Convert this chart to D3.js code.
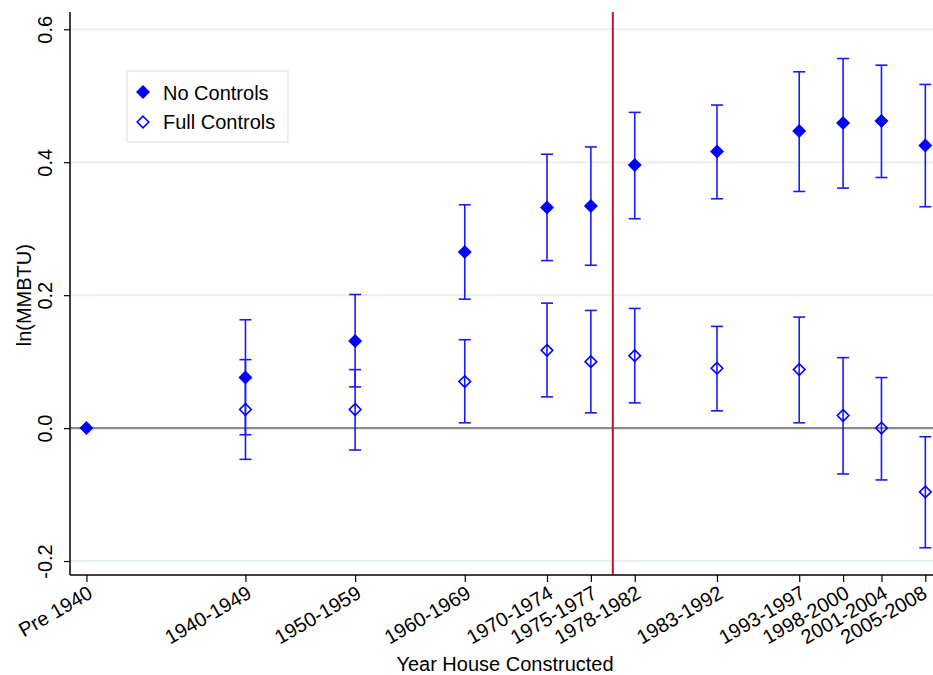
<!DOCTYPE html>
<html>
<head>
<meta charset="utf-8">
<script src="https://cdn.jsdelivr.net/npm/d3@7.9.0/dist/d3.min.js"></script>
<style>
  html, body { margin: 0; padding: 0; background: #fff; }
  svg { display: block; font-family: "Liberation Sans", Arial, sans-serif; }
</style>
</head>
<body>
<svg id="chart" width="933" height="675"></svg>
<script>
// categories and their positions on the year axis (mid-year of each bin)
const labels = ['Pre 1940', '1940-1949', '1950-1959', '1960-1969', '1970-1974', '1975-1977',
  '1978-1982', '1983-1992', '1993-1997', '1998-2000', '2001-2004', '2005-2008'];
const midYears = [1930, 1944.5, 1954.5, 1964.5, 1972, 1976, 1980, 1987.5, 1995, 1999, 2002.5, 2006.5];

// No Controls: estimate and 95% CI
const noCtrl   = [0, 0.076, 0.131, 0.265, 0.332, 0.334, 0.396, 0.416, 0.447, 0.459, 0.462, 0.425];
const noCtrlLo = [null, -0.010, 0.062, 0.194, 0.252, 0.245, 0.315, 0.345, 0.356, 0.361, 0.377, 0.333];
const noCtrlHi = [null, 0.163, 0.201, 0.336, 0.412, 0.423, 0.475, 0.486, 0.536, 0.556, 0.546, 0.517];

// Full Controls: estimate and 95% CI
const fullCtrl   = [null, 0.028, 0.028, 0.070, 0.117, 0.100, 0.109, 0.090, 0.088, 0.019, 0.000, -0.096];
const fullCtrlLo = [null, -0.047, -0.033, 0.008, 0.047, 0.023, 0.038, 0.026, 0.008, -0.069, -0.078, -0.180];
const fullCtrlHi = [null, 0.103, 0.088, 0.133, 0.188, 0.177, 0.180, 0.153, 0.167, 0.106, 0.076, -0.013];

const yTicks = [-0.2, 0, 0.2, 0.4, 0.6];
const codeYear = 1978; // red reference line

const margin = { top: 12, right: 0, bottom: 100, left: 70 };
const W = 933, H = 675;
const svg = d3.select('#chart');

const x = d3.scaleLinear().domain([1928.5, 2007.2]).range([margin.left, W - margin.right]);
const y = d3.scaleLinear().domain([-0.221, 0.626]).range([H - margin.bottom, margin.top]);

const blue = '#0000ff';
const barBlue = '#1a1aff';

// gridlines
svg.append('g').selectAll('line').data(yTicks).join('line')
  .attr('x1', margin.left).attr('x2', W - margin.right)
  .attr('y1', d => y(d)).attr('y2', d => y(d))
  .attr('stroke', '#e8f0f2').attr('stroke-width', 2);

// zero line
svg.append('line')
  .attr('x1', margin.left).attr('x2', W - margin.right)
  .attr('y1', y(0)).attr('y2', y(0))
  .attr('stroke', '#8c8c8c').attr('stroke-width', 2.4);

// red reference line
svg.append('line')
  .attr('x1', x(codeYear)).attr('x2', x(codeYear))
  .attr('y1', margin.top).attr('y2', H - margin.bottom)
  .attr('stroke', '#c8102e').attr('stroke-width', 2);

// axes
const yAxis = svg.append('g')
  .attr('transform', `translate(${margin.left},0)`)
  .call(d3.axisLeft(y).tickValues(yTicks).tickSize(6).tickFormat(d => d.toFixed(1)));
yAxis.select('.domain').attr('stroke', '#000').attr('stroke-width', 1.5)
  .attr('d', `M0,${margin.top}V${H - margin.bottom}`);
yAxis.selectAll('.tick line').attr('stroke', '#000').attr('stroke-width', 1.2);
yAxis.selectAll('.tick text')
  .attr('font-size', 20).attr('fill', '#000')
  .attr('text-anchor', 'middle')
  .attr('transform', 'rotate(-90)')
  .attr('x', 0).attr('y', -18).attr('dy', 0);

const xAxis = svg.append('g')
  .attr('transform', `translate(0,${H - margin.bottom})`)
  .call(d3.axisBottom(x).tickValues(midYears).tickSize(7).tickFormat((d, i) => labels[i]));
xAxis.select('.domain').attr('stroke', '#000').attr('stroke-width', 1.5)
  .attr('d', `M${margin.left},0H${W}`);
xAxis.selectAll('.tick line').attr('stroke', '#000').attr('stroke-width', 1.2);
// keep the last label inside the right edge
xAxis.selectAll('.tick text')
  .attr('font-size', 20).attr('fill', '#000')
  .attr('text-anchor', 'end')
  .attr('x', 0).attr('y', 0).attr('dy', 0)
  .attr('transform', d => `translate(${Math.min(7, W - 5 - x(d))},22) rotate(-30)`);

// axis titles
svg.append('text')
  .attr('transform', `translate(31,${y(0.2)}) rotate(-90)`)
  .attr('text-anchor', 'middle').attr('font-size', 20)
  .text('ln(MMBTU)');
svg.append('text')
  .attr('x', 505).attr('y', 671)
  .attr('text-anchor', 'middle').attr('font-size', 20)
  .text('Year House Constructed');

// error bars
const capW = 6;
function errorBars(lo, hi) {
  const idx = d3.range(labels.length).filter(i => lo[i] !== null);
  const g = svg.append('g').attr('stroke', barBlue).attr('stroke-width', 1.6).attr('fill', 'none');
  g.selectAll('.v').data(idx).join('line')
    .attr('x1', i => x(midYears[i])).attr('x2', i => x(midYears[i]))
    .attr('y1', i => y(lo[i])).attr('y2', i => y(hi[i]));
  g.selectAll('.lo').data(idx).join('line')
    .attr('x1', i => x(midYears[i]) - capW).attr('x2', i => x(midYears[i]) + capW)
    .attr('y1', i => y(lo[i])).attr('y2', i => y(lo[i]));
  g.selectAll('.hi').data(idx).join('line')
    .attr('x1', i => x(midYears[i]) - capW).attr('x2', i => x(midYears[i]) + capW)
    .attr('y1', i => y(hi[i])).attr('y2', i => y(hi[i]));
}
errorBars(fullCtrlLo, fullCtrlHi);
errorBars(noCtrlLo, noCtrlHi);

const diamond = r => `M0,${-r}L${r},0L0,${r}L${-r},0Z`;

// full controls: hollow diamonds
svg.append('g').selectAll('path')
  .data(d3.range(labels.length).filter(i => fullCtrl[i] !== null)).join('path')
  .attr('d', diamond(5.8))
  .attr('transform', i => `translate(${x(midYears[i])},${y(fullCtrl[i])})`)
  .attr('fill', 'none').attr('stroke', blue).attr('stroke-width', 1.6);

// no controls: filled diamonds
svg.append('g').selectAll('path')
  .data(d3.range(labels.length)).join('path')
  .attr('d', diamond(7))
  .attr('transform', i => `translate(${x(midYears[i])},${y(noCtrl[i])})`)
  .attr('fill', blue);

// legend
const leg = svg.append('g').attr('transform', 'translate(127,71)');
leg.append('rect').attr('width', 161).attr('height', 71)
  .attr('fill', '#fff').attr('stroke', '#e3ebee').attr('stroke-width', 1.5);
leg.append('path').attr('d', diamond(7)).attr('transform', 'translate(16,21)').attr('fill', blue);
leg.append('path').attr('d', diamond(5.8)).attr('transform', 'translate(16,51)')
  .attr('fill', 'none').attr('stroke', blue).attr('stroke-width', 1.6);
leg.append('text').attr('x', 36).attr('y', 29).attr('font-size', 20).text('No Controls');
leg.append('text').attr('x', 36).attr('y', 58).attr('font-size', 20).text('Full Controls');
</script>
</body>
</html>
